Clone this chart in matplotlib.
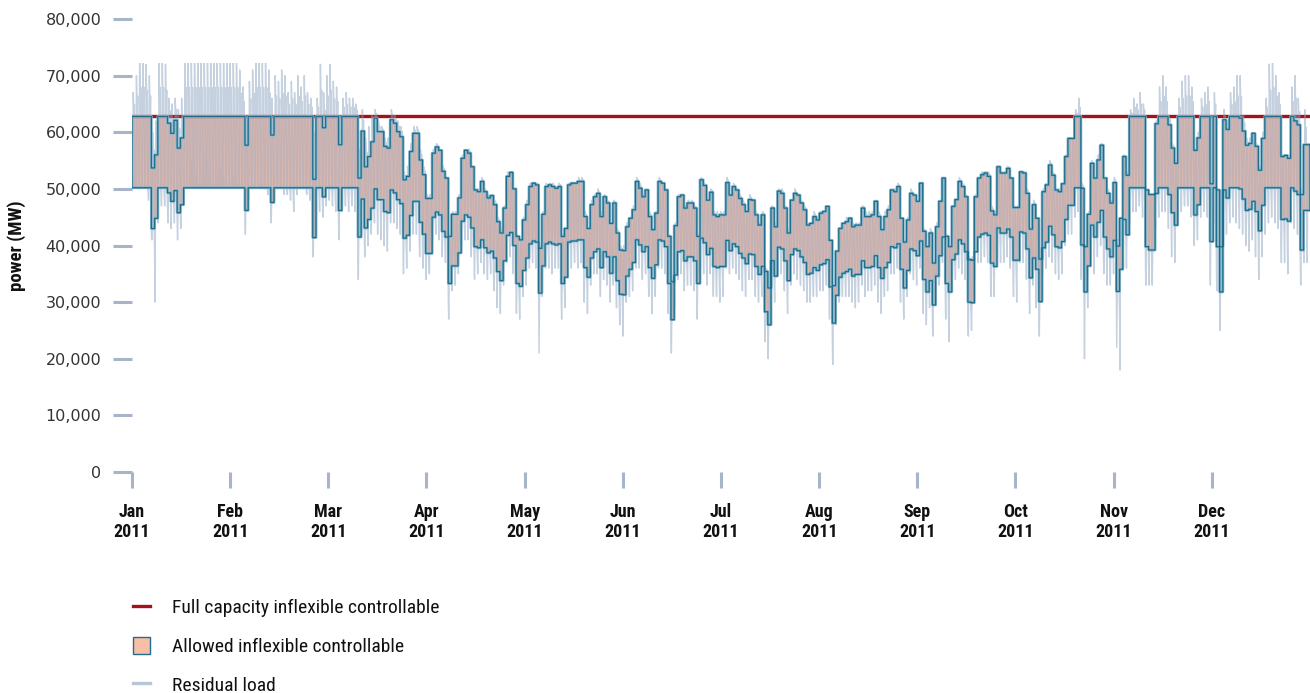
import numpy as np
import matplotlib
matplotlib.use("Agg")
import matplotlib.pyplot as plt
from matplotlib import font_manager
from matplotlib.lines import Line2D
from matplotlib.patches import Patch, Rectangle
from matplotlib.ticker import FuncFormatter

# ---------------------------------------------------------------------------
# Daily values in thousand MW, one row per week, starting 1 Jan 2011.
# Upper edge of the allowed inflexible band (daily step).
UPPER = [
    [62.8, 62.8, 62.8, 62.8, 62.8, 62.8, 53.7],
    [56.0, 62.8, 62.8, 62.8, 61.6, 59.8, 62.1],
    [57.2, 59.0, 62.8, 62.8, 62.8, 62.8, 62.8],
    [62.8, 62.8, 62.8, 62.8, 62.8, 62.8, 62.8],
    [62.8, 62.8, 62.8, 62.8, 62.8, 62.8, 62.8],
    [57.7, 62.8, 62.8, 62.8, 62.8, 62.8, 62.8],
    [62.8, 59.5, 62.8, 62.8, 62.8, 62.8, 62.8],
    [62.8, 62.8, 62.8, 62.8, 62.8, 62.8, 62.8],
    [51.7, 62.8, 62.8, 60.8, 62.8, 62.8, 62.8],
    [62.8, 57.8, 62.8, 62.8, 62.8, 62.8, 62.8],
    [51.9, 60.2, 53.9, 55.7, 58.3, 62.5, 60.1],
    [60.1, 57.5, 57.2, 62.2, 61.6, 60.1, 59.2],
    [51.6, 52.2, 56.6, 59.8, 59.8, 55.1, 52.5],
    [48.3, 48.3, 56.3, 57.4, 56.8, 53.1, 51.9],
    [41.6, 45.5, 45.5, 48.4, 55.4, 56.8, 56.3],
    [53.9, 49.8, 49.5, 51.3, 49.5, 48.4, 48.8],
    [47.2, 44.2, 42.2, 46.6, 52.2, 52.9, 50.0],
    [41.6, 41.0, 44.5, 47.2, 50.4, 51.0, 50.7],
    [39.5, 45.5, 50.4, 50.7, 50.4, 50.1, 50.4],
    [41.6, 43.0, 50.7, 51.0, 51.0, 51.3, 51.3],
    [45.1, 43.0, 47.2, 48.6, 49.2, 45.1, 48.6],
    [47.5, 43.9, 47.5, 42.2, 39.2, 39.1, 43.3],
    [44.8, 46.3, 51.3, 50.1, 48.6, 49.8, 45.1],
    [42.8, 45.7, 51.3, 51.0, 49.8, 41.6, 33.6],
    [43.5, 48.6, 48.9, 46.6, 47.5, 47.5, 46.6],
    [41.6, 51.6, 50.6, 48.0, 49.4, 45.4, 45.1],
    [45.4, 45.4, 51.1, 48.9, 50.4, 49.8, 48.3],
    [47.2, 46.0, 48.1, 48.0, 45.4, 43.6, 45.4],
    [35.4, 32.5, 46.6, 43.3, 49.6, 49.2, 46.6],
    [42.2, 48.0, 49.2, 48.9, 47.5, 46.3, 43.6],
    [43.9, 45.1, 44.5, 45.7, 46.0, 46.9, 40.9],
    [32.9, 39.0, 43.0, 43.9, 44.2, 44.8, 43.3],
    [43.6, 43.6, 46.6, 45.1, 45.1, 45.4, 47.8],
    [45.1, 42.8, 45.1, 46.3, 49.8, 49.5, 50.4],
    [44.8, 40.6, 44.5, 49.2, 48.9, 47.8, 51.0],
    [42.5, 39.8, 42.2, 36.9, 43.3, 47.8, 51.9],
    [41.6, 39.8, 46.9, 48.1, 51.3, 50.4, 48.6],
    [37.5, 37.4, 48.6, 51.9, 52.5, 52.8, 52.2],
    [46.1, 45.4, 53.9, 52.8, 52.8, 53.6, 51.9],
    [46.7, 46.7, 53.0, 52.8, 49.2, 42.9, 47.2],
    [44.8, 37.6, 49.5, 50.7, 54.2, 52.4, 49.8],
    [49.5, 50.9, 55.7, 58.9, 58.9, 62.8, 62.8],
    [50.1, 39.8, 45.5, 54.5, 51.9, 55.1, 57.7],
    [51.9, 49.2, 47.5, 51.1, 39.9, 44.8, 55.7],
    [52.4, 62.8, 62.8, 62.8, 62.8, 62.8, 49.8],
    [49.0, 49.0, 61.5, 62.8, 62.8, 62.8, 61.3],
    [57.2, 54.5, 62.8, 62.8, 62.8, 62.8, 62.8],
    [56.8, 59.0, 62.8, 62.8, 62.8, 50.9, 62.8],
    [49.8, 39.8, 62.2, 60.5, 62.8, 62.8, 62.8],
    [62.5, 60.2, 57.7, 58.0, 59.8, 57.5, 53.3],
    [58.9, 62.8, 62.8, 62.8, 62.8, 62.8, 55.7],
    [55.9, 55.4, 62.8, 62.0, 61.3, 49.0, 57.8],
    [57.8],
]

# Lower edge of the allowed inflexible band (daily step).
LOWER = [
    [50.2, 50.2, 50.2, 50.2, 50.2, 50.2, 43.0],
    [44.8, 50.2, 50.2, 50.2, 49.3, 47.8, 49.7],
    [45.8, 47.2, 50.2, 50.2, 50.2, 50.2, 50.2],
    [50.2, 50.2, 50.2, 50.2, 50.2, 50.2, 50.2],
    [50.2, 50.2, 50.2, 50.2, 50.2, 50.2, 50.2],
    [46.2, 50.2, 50.2, 50.2, 50.2, 50.2, 50.2],
    [50.2, 47.6, 50.2, 50.2, 50.2, 50.2, 50.2],
    [50.2, 50.2, 50.2, 50.2, 50.2, 50.2, 50.2],
    [41.4, 50.2, 50.2, 48.6, 50.2, 50.2, 50.2],
    [50.2, 46.2, 50.2, 50.2, 50.2, 50.2, 50.2],
    [41.5, 48.2, 43.1, 44.6, 46.6, 50.0, 48.1],
    [48.1, 46.0, 45.8, 49.8, 49.3, 48.1, 47.4],
    [41.3, 41.8, 45.3, 47.8, 47.8, 44.1, 42.0],
    [38.6, 38.6, 45.0, 45.9, 45.4, 42.5, 41.5],
    [33.3, 36.4, 36.4, 38.7, 44.3, 45.4, 45.0],
    [43.1, 39.8, 39.6, 41.0, 39.6, 38.7, 39.0],
    [37.8, 35.4, 33.8, 37.3, 41.8, 42.3, 40.0],
    [33.3, 32.8, 35.6, 37.8, 40.3, 40.8, 40.6],
    [31.6, 36.4, 40.3, 40.6, 40.3, 40.1, 40.3],
    [33.3, 34.4, 40.6, 40.8, 40.8, 41.0, 41.0],
    [36.1, 34.4, 37.8, 38.9, 39.4, 36.1, 38.9],
    [38.0, 35.1, 38.0, 33.8, 31.4, 31.3, 34.6],
    [35.8, 37.0, 41.0, 40.1, 38.9, 39.8, 36.1],
    [34.2, 36.6, 41.0, 40.8, 39.8, 33.3, 26.9],
    [34.8, 38.9, 39.1, 37.3, 38.0, 38.0, 37.3],
    [33.3, 41.3, 40.5, 38.4, 39.5, 36.3, 36.1],
    [36.3, 36.3, 40.9, 39.1, 40.3, 39.8, 38.6],
    [37.8, 36.8, 38.5, 38.4, 36.3, 34.9, 36.3],
    [28.3, 26.0, 37.3, 34.6, 39.7, 39.4, 37.3],
    [33.8, 38.4, 39.4, 39.1, 38.0, 37.0, 34.9],
    [35.1, 36.1, 35.6, 36.6, 36.8, 37.5, 32.7],
    [26.3, 31.2, 34.4, 35.1, 35.4, 35.8, 34.6],
    [34.9, 34.9, 37.3, 36.1, 36.1, 36.3, 38.2],
    [36.1, 34.2, 36.1, 37.0, 39.8, 39.6, 40.3],
    [35.8, 32.5, 35.6, 39.4, 39.1, 38.2, 40.8],
    [34.0, 31.8, 33.8, 29.5, 34.6, 38.2, 41.5],
    [33.3, 31.8, 37.5, 38.5, 41.0, 40.3, 38.9],
    [30.0, 29.9, 38.9, 41.5, 42.0, 42.2, 41.8],
    [36.9, 36.3, 43.1, 42.2, 42.2, 42.9, 41.5],
    [37.4, 37.4, 42.4, 42.2, 39.4, 34.3, 37.8],
    [35.8, 30.1, 39.6, 40.6, 43.4, 41.9, 39.8],
    [39.6, 40.7, 44.6, 47.1, 47.1, 50.2, 50.2],
    [40.1, 31.8, 36.4, 43.6, 41.5, 44.1, 46.2],
    [41.5, 39.4, 38.0, 40.9, 31.9, 35.8, 44.6],
    [41.9, 50.2, 50.2, 50.2, 50.2, 50.2, 39.8],
    [39.2, 39.2, 49.2, 50.2, 50.2, 50.2, 49.0],
    [45.8, 43.6, 50.2, 50.2, 50.2, 50.2, 50.2],
    [45.4, 47.2, 50.2, 50.2, 50.2, 40.7, 50.2],
    [39.8, 31.8, 49.8, 48.4, 50.2, 50.2, 50.2],
    [50.0, 48.2, 46.2, 46.4, 47.8, 46.0, 42.6],
    [47.1, 50.2, 50.2, 50.2, 50.2, 50.2, 44.6],
    [44.7, 44.3, 50.2, 49.6, 49.0, 39.2, 46.2],
    [46.2],
]

# Residual load: daily maximum and minimum (thousand MW).
RES_HI = [
    [67, 70, 73, 73, 72, 70, 60],
    [62, 73, 73, 72, 66, 65, 66],
    [64, 66, 73, 73, 73, 73, 73],
    [73, 73, 73, 73, 73, 73, 73],
    [73, 73, 73, 73, 73, 71, 68],
    [63, 69, 71, 73, 73, 73, 73],
    [71, 66, 70, 69, 71, 70, 67],
    [69, 67, 70, 68, 70, 67, 66],
    [60, 66, 72, 67, 70, 72, 69],
    [68, 63, 66, 67, 66, 66, 65],
    [57, 64, 59, 61, 63, 64, 62],
    [61, 59, 59, 64, 63, 62, 61],
    [53, 54, 58, 61, 61, 57, 54],
    [49, 49, 57, 58, 57, 54, 52],
    [42, 46, 46, 49, 56, 57, 57],
    [54, 50, 50, 52, 50, 49, 49],
    [48, 45, 43, 47, 53, 53, 50],
    [42, 41, 45, 48, 51, 51, 51],
    [40, 46, 51, 51, 51, 50, 51],
    [42, 43, 51, 51, 51, 52, 52],
    [46, 43, 48, 49, 50, 46, 49],
    [48, 44, 48, 43, 40, 40, 44],
    [45, 47, 52, 51, 49, 50, 46],
    [43, 46, 52, 51, 50, 42, 34],
    [44, 49, 49, 47, 48, 48, 47],
    [42, 52, 51, 48, 50, 46, 46],
    [46, 46, 52, 49, 51, 50, 49],
    [48, 46, 49, 48, 46, 44, 46],
    [36, 33, 47, 44, 50, 50, 47],
    [43, 48, 50, 49, 48, 47, 44],
    [44, 46, 45, 46, 46, 47, 41],
    [33, 39, 43, 44, 45, 45, 44],
    [44, 44, 47, 46, 46, 46, 48],
    [46, 43, 46, 47, 50, 50, 51],
    [45, 41, 45, 50, 49, 48, 51],
    [43, 40, 43, 37, 44, 48, 52],
    [42, 40, 47, 48, 52, 51, 49],
    [38, 38, 49, 52, 53, 53, 53],
    [47, 46, 54, 53, 53, 54, 52],
    [47, 47, 53, 53, 50, 43, 48],
    [45, 38, 50, 51, 55, 53, 50],
    [50, 51, 56, 59, 59, 64, 66],
    [51, 40, 46, 55, 52, 56, 58],
    [52, 50, 48, 52, 40, 45, 56],
    [53, 64, 66, 65, 67, 65, 50],
    [49, 49, 62, 68, 70, 68, 63],
    [58, 55, 66, 69, 70, 70, 68],
    [57, 60, 66, 67, 68, 63, 67],
    [50, 40, 64, 62, 67, 68, 70],
    [70, 63, 59, 59, 60, 58, 54],
    [60, 66, 72, 73, 70, 67, 56],
    [56, 56, 68, 70, 66, 50, 64],
    [58],
]

RES_LO = [
    [53, 55, 50, 52, 51, 48, 41],
    [30, 44, 47, 47, 44, 43, 44],
    [41, 43, 50, 52, 55, 56, 57],
    [57, 56, 55, 56, 56, 55, 54],
    [55, 54, 53, 52, 52, 51, 52],
    [42, 48, 50, 52, 52, 51, 50],
    [49, 44, 48, 50, 50, 49, 49],
    [48, 46, 49, 50, 50, 49, 48],
    [38, 42, 46, 45, 47, 48, 47],
    [46, 41, 46, 47, 46, 47, 46],
    [34, 42, 38, 40, 42, 44, 42],
    [41, 40, 39, 44, 44, 43, 42],
    [35, 36, 39, 42, 42, 38, 36],
    [34, 35, 41, 42, 41, 38, 37],
    [27, 32, 33, 35, 40, 41, 41],
    [38, 34, 35, 37, 35, 34, 35],
    [32, 29, 28, 33, 37, 38, 35],
    [28, 27, 31, 33, 36, 37, 36],
    [21, 31, 36, 36, 35, 36, 36],
    [27, 29, 36, 36, 37, 36, 37],
    [30, 28, 33, 35, 35, 31, 34],
    [33, 30, 33, 29, 26, 24, 30],
    [31, 32, 36, 36, 34, 35, 31],
    [28, 31, 36, 36, 35, 28, 21],
    [29, 34, 35, 32, 33, 33, 32],
    [27, 36, 35, 33, 35, 31, 31],
    [30, 31, 36, 35, 36, 35, 34],
    [32, 31, 34, 34, 31, 30, 31],
    [23, 20, 33, 30, 35, 35, 32],
    [28, 33, 35, 34, 33, 32, 30],
    [30, 31, 31, 32, 32, 33, 27],
    [19, 26, 30, 31, 31, 31, 30],
    [29, 30, 33, 31, 32, 32, 33],
    [30, 28, 31, 32, 35, 35, 36],
    [30, 27, 31, 35, 34, 33, 36],
    [28, 26, 29, 24, 30, 33, 37],
    [27, 23, 33, 34, 36, 35, 34],
    [24, 25, 34, 37, 37, 38, 37],
    [31, 31, 38, 37, 37, 38, 36],
    [31, 30, 37, 37, 34, 28, 33],
    [29, 24, 35, 36, 38, 37, 35],
    [34, 35, 40, 42, 42, 45, 46],
    [34, 20, 29, 38, 35, 38, 40],
    [35, 33, 33, 35, 22, 18, 39],
    [36, 44, 46, 46, 47, 45, 33],
    [33, 33, 43, 45, 46, 46, 43],
    [38, 37, 44, 46, 47, 47, 45],
    [40, 41, 45, 46, 45, 33, 44],
    [32, 25, 43, 42, 44, 45, 44],
    [43, 42, 40, 39, 41, 38, 34],
    [38, 42, 44, 45, 44, 43, 37],
    [37, 35, 44, 43, 42, 33, 37],
    [37],
]

FULL_CAPACITY = 62.8          # thousand MW
RES_CLIP = 72.2               # residual load shown up to this level
MONTHS = ["Jan", "Feb", "Mar", "Apr", "May", "Jun",
          "Jul", "Aug", "Sep", "Oct", "Nov", "Dec"]
YEAR = "2011"
Y_TICKS = [0, 10000, 20000, 30000, 40000, 50000, 60000, 70000, 80000]
LABELS = ["Full capacity inflexible controllable",
          "Allowed inflexible controllable",
          "Residual load"]

C_RED = "#a3121a"
C_FILL = "#f9bfa6"
C_EDGE = "#1d6e8b"
C_HALO = "#86b4c9"
C_RES = "#8ea5c3"
C_TICK = "#a6b5ca"


def flat(rows):
    return np.array([v for row in rows for v in row], dtype=float) * 1000.0


def pick_narrow():
    names = {f.name for f in font_manager.fontManager.ttflist}
    for cand in ("Liberation Sans Narrow", "Roboto Condensed",
                 "Open Sans Condensed", "Liberation Sans"):
        if cand in names:
            return cand
    return "DejaVu Sans"


upper = flat(UPPER)
lower = flat(LOWER)
res_hi = flat(RES_HI)
res_lo = flat(RES_LO)
n_days = len(upper)
hours_per_day = 24
total_hours = n_days * hours_per_day
NARROW = pick_narrow()

# --------------------------- figure -------------------------------------
W, H = 1310, 693
fig = plt.figure(figsize=(W / 100, H / 100), dpi=100)
ax = fig.add_axes([132 / W, 1 - 472 / H, 1178 / W, 453 / H])
ax.set_xlim(0, total_hours)
ax.set_ylim(0, 80000)
for s in ax.spines.values():
    s.set_visible(False)

edges = np.arange(n_days + 1) * hours_per_day
up_ext = np.append(upper, upper[-1])
lo_ext = np.append(lower, lower[-1])

# band fill
ax.fill_between(edges, lo_ext, up_ext, step="post", facecolor=C_FILL,
                edgecolor="none", zorder=1)

# full capacity line
ax.axhline(FULL_CAPACITY * 1000, color=C_RED, lw=2.4, zorder=2)

# residual load: the daily extremes joined through the band edges,
# a few swings per day so the trace reads like the hourly series
day0 = edges[:-1]
mid_lo = (res_lo + lower) / 2
mid_hi = (res_hi + upper) / 2
offsets = [0.5, 3, 6, 9, 12, 15, 18, 21]
rx = np.column_stack([day0 + o for o in offsets]).ravel()
ry = np.column_stack([mid_lo, res_lo, lower, res_hi,
                      mid_hi, upper, mid_hi, lower]).ravel()
res_line, = ax.plot(rx, ry, color=C_RES, lw=1.05, alpha=0.5, zorder=3)
clip = Rectangle((0, 0), total_hours, RES_CLIP * 1000, transform=ax.transData)
res_line.set_clip_path(clip)

# band outline on top
ax.fill_between(edges, lo_ext, up_ext, step="post", facecolor="none",
                edgecolor=C_HALO, lw=2.0, zorder=3.5)
ax.fill_between(edges, lo_ext, up_ext, step="post", facecolor="none",
                edgecolor=C_EDGE, lw=0.9, zorder=4)

# ticks
ax.set_yticks(Y_TICKS)
ax.yaxis.set_major_formatter(FuncFormatter(lambda v, p: f"{v:,.0f}"))
ax.tick_params(axis="y", length=14, width=2.2, color=C_TICK, pad=8,
               labelsize=11.5, labelcolor="#333333")
month_len = total_hours / len(MONTHS)
ax.set_xticks([i * month_len for i in range(len(MONTHS))])
ax.set_xticklabels([f"{m}\n{YEAR}" for m in MONTHS], fontfamily=NARROW,
                   fontweight="bold", linespacing=1.15)
ax.tick_params(axis="x", length=11.5, width=2.2, color=C_TICK, pad=10.5,
               labelsize=13, labelcolor="#111111")

fig.text(17 / W, 1 - 246 / H, "power (MW)", rotation=90, ha="center",
         va="center", fontweight="bold", fontsize=13.5, color="#111111",
         fontfamily=NARROW)

# legend
handles = [
    Line2D([], [], color=C_RED, lw=2.4),
    Patch(facecolor=C_FILL, edgecolor=C_EDGE, lw=1.0),
    Line2D([], [], color="#b7c6d8", lw=2.4),
]
fig.legend(handles, LABELS, loc="upper left",
           bbox_to_anchor=(133 / W, 1 - 598 / H), frameon=False,
           prop={"family": NARROW, "size": 14}, handlelength=0.85,
           handleheight=1.0, handletextpad=1.15, labelspacing=1.0,
           borderpad=0, borderaxespad=0, labelcolor="#111111")

fig.savefig("out.png", dpi=100)
